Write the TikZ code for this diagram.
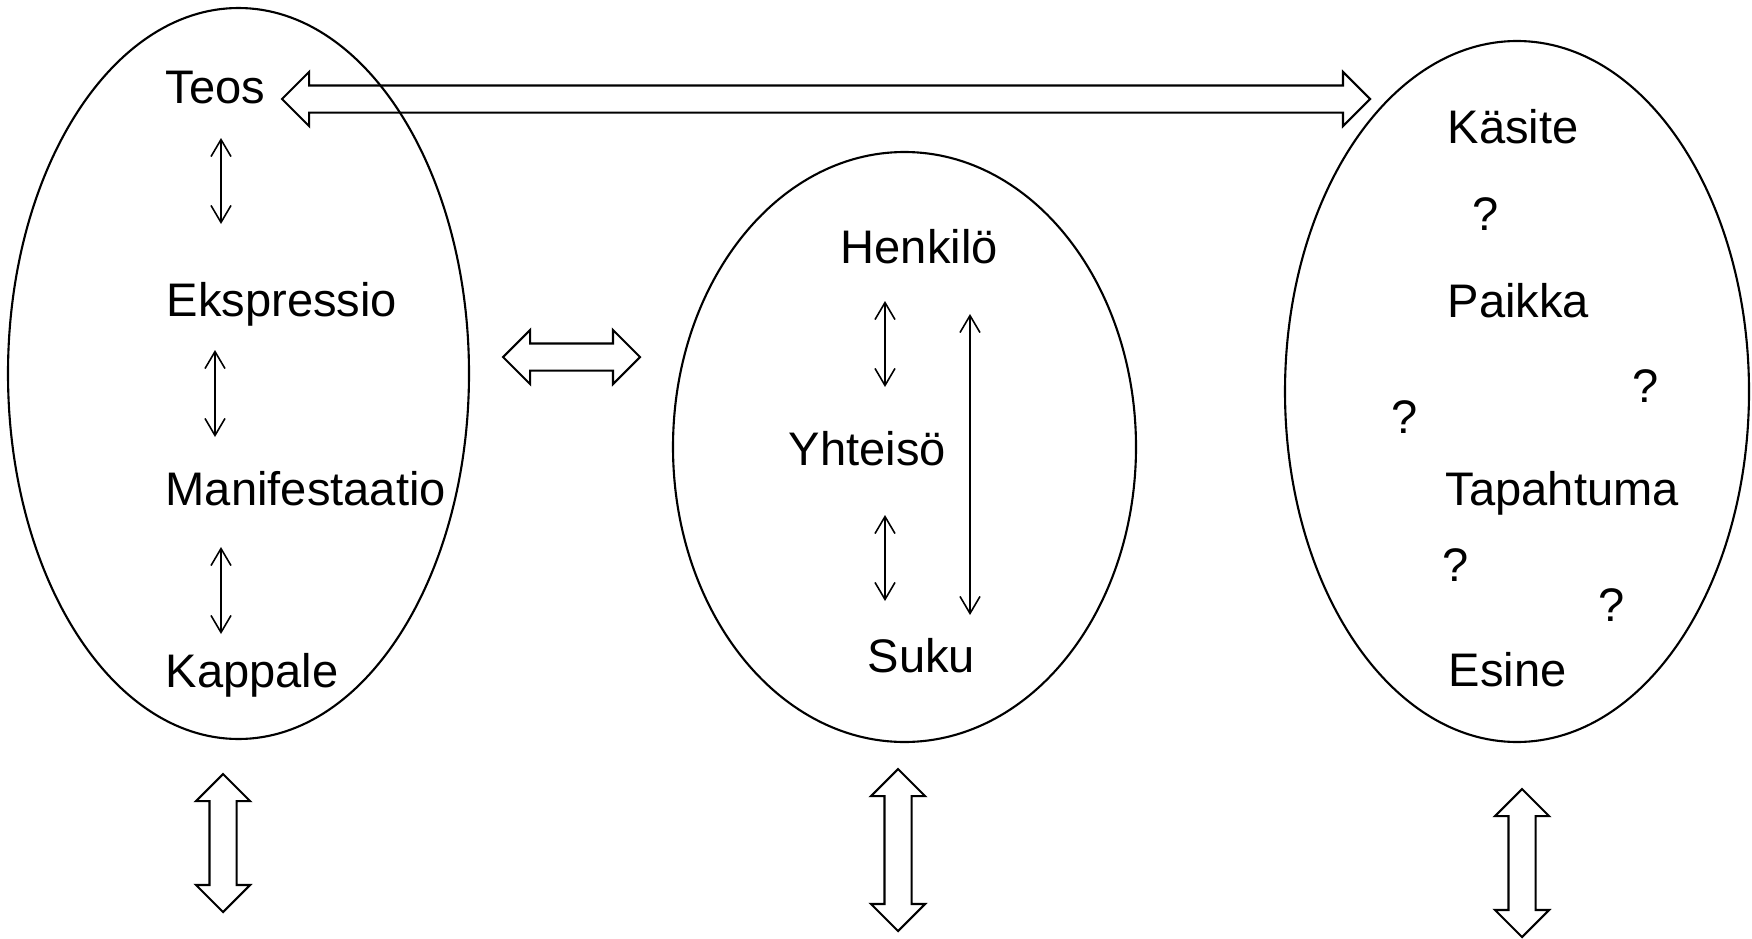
\documentclass[tikz,border=0pt]{standalone}
\usepackage{fontspec}
\setmainfont{Liberation Sans}
\usetikzlibrary{shapes.geometric,shapes.arrows,arrows.meta}
\begin{document}
\begin{tikzpicture}[x=1cm, y=-1cm,
  group/.style={draw, ellipse, line width=0.6pt, inner sep=0pt},
  entity/.style={anchor=base west, inner sep=0pt, font=\fontsize{13.4}{16}\selectfont},
  query/.style={anchor=base, inner sep=0pt, font=\fontsize{13.4}{16}\selectfont},
  rel/.style={{Straight Barb[length=1.7mm,width=2mm]}-{Straight Barb[length=1.7mm,width=2mm]}, line width=0.45pt},
  link/.style={draw, double arrow, double arrow head extend=1.35mm, minimum width=5.2mm, inner xsep=0pt, inner ysep=1.25mm, line width=0.6pt}]
  \useasboundingbox (0,0) rectangle (17.52,9.38);
  \node[group, minimum width=4.61cm, minimum height=7.31cm] (works) at (2.385,3.735) {};
  \node[group, minimum width=4.63cm, minimum height=5.90cm] (agents) at (9.045,4.47) {};
  \node[group, minimum width=4.64cm, minimum height=7.01cm] (subjects) at (15.17,3.915) {};
  \foreach \n/\x/\y/\t in {
    teos/1.65/1.04/Teos, ekspr/1.66/3.16/Ekspressio,
    manif/1.65/5.05/Manifestaatio, kapp/1.65/6.87/Kappale,
    henk/8.40/2.63/Henkilö, yht/7.88/4.65/Yhteisö, suku/8.67/6.72/Suku,
    kasite/14.47/1.43/Käsite, paikka/14.47/3.17/Paikka,
    tapaht/14.45/5.05/Tapahtuma, esine/14.48/6.86/Esine} {
    \node[entity] (\n) at (\x,\y) {\t};
  }
  \foreach \n/\x/\y in {q1/14.86/2.30, q2/16.46/4.02, q3/14.05/4.33, q4/14.56/5.81, q5/16.12/6.21}
    \node[query] (\n) at (\x,\y) {?};
  \foreach \n/\x/\ya/\yb in {
    te/2.21/1.38/2.24, em/2.15/3.50/4.37, mk/2.21/5.47/6.34,
    hy/8.85/3.01/3.87, ys/8.85/5.15/6.01, hs/9.70/3.14/6.15} {
    \coordinate (\n-a) at (\x,\ya);
    \coordinate (\n-b) at (\x,\yb);
    \draw[rel] (\n-a) -- (\n-b);
  }
  \node[link, minimum height=10.88cm] (teos-subj) at (8.26,0.99) {};
  \node[link, minimum height=1.37cm] (works-agents) at (5.715,3.57) {};
  \node[link, minimum height=1.38cm, rotate=90] (works-out) at (2.23,8.43) {};
  \node[link, minimum height=1.62cm, rotate=90] (agents-out) at (8.98,8.50) {};
  \node[link, minimum height=1.48cm, rotate=90] (subjects-out) at (15.22,8.63) {};
\end{tikzpicture}
\end{document}
